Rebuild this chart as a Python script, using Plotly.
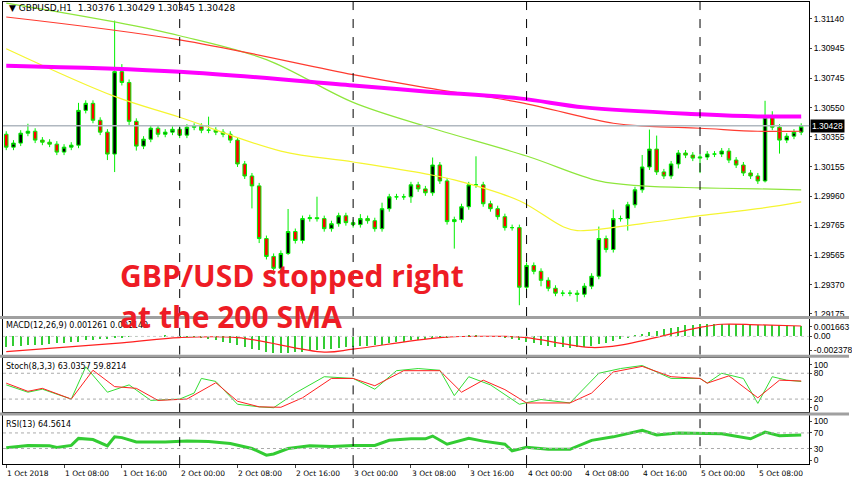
import plotly.graph_objects as go
from plotly.subplots import make_subplots

first_open = 1.30372
closes = [1.30286,1.30313,1.30379,1.30392,1.30333,1.30319,1.30306,1.30253,1.30286,1.30299,
          1.30531,1.30578,1.30465,1.30386,1.30240,1.30789,1.30717,1.30458,1.30293,1.30339,
          1.30412,1.30372,1.30386,1.30405,1.30366,1.30419,1.30425,1.30399,1.30399,1.30386,
          1.30372,1.30333,1.30174,1.30094,1.30028,1.29677,1.29558,1.29479,1.29578,1.29724,
          1.29664,1.29810,1.29816,1.29810,1.29743,1.29776,1.29829,1.29783,1.29770,1.29810,
          1.29796,1.29743,1.29876,1.29955,1.29955,1.29955,1.30035,1.30008,1.29982,1.30167,
          1.30061,1.29790,1.29803,1.29889,1.30035,1.30035,1.29909,1.29876,1.29823,1.29750,
          1.29750,1.29353,1.29498,1.29459,1.29399,1.29346,1.29313,1.29313,1.29313,1.29306,
          1.29360,1.29426,1.29677,1.29604,1.29810,1.29810,1.29902,1.30002,1.30154,1.30273,
          1.30121,1.30094,1.30174,1.30247,1.30233,1.30213,1.30220,1.30240,1.30240,1.30260,
          1.30200,1.30167,1.30114,1.30094,1.30061,1.30485,1.30419,1.30333,1.30359,1.30386,
          1.30425]
base_wick_pips = 2
wick_up_pips = {3:5,10:5,15:34,16:5,28:9,39:15,43:14,49:3,52:4,59:5,65:19,82:8,84:6,88:8,89:13,90:9,105:11,106:4}
wick_dn_pips = {14:4,15:12,17:3,18:3,34:15,35:3,37:4,39:1,56:4,62:18,71:12,74:4,79:5,86:8,93:3,96:10,105:1,107:9}

red_ma_idx = [0,24,48,58,71,84,89,96,104,110]
red_ma = [1.31153,1.31001,1.30769,1.30683,1.30584,1.30445,1.30425,1.30412,1.30392,1.30392]
sma200_idx = [0,24,48,58,71,80,96,104,110]
sma200 = [1.30829,1.30789,1.30697,1.30657,1.30611,1.30551,1.30505,1.30491,1.30491]
lime_ma_idx = [0,15,24,36,48,58,72,82,88,96,104,110]
lime_ma = [1.31246,1.31120,1.31028,1.30869,1.30584,1.30425,1.30227,1.30061,1.30028,1.30015,1.30008,1.30002]
yel_ma_idx = [0,15,24,38,48,58,62,71,77,79,88,96,104,110]
yel_ma = [1.30942,1.30624,1.30485,1.30260,1.30187,1.30108,1.30068,1.29929,1.29757,1.29730,1.29777,1.29830,1.29876,1.29922]

macd_hist_e4 = [-18,-17,-16,-15,-15,-14,-13,-12,-11,-10,-9,-7,-6,-5,-4,-3,-2,-1,-1,0,0,0,1,0,
                -1,-1,-1,-2,-4,-6,-9,-12,-15,-18,-21,-24,-27,-29,-29,-28,-27,-26,-25,-23,-22,-21,-20,-19,
                -18,-17,-16,-15,-14,-12,-10,-9,-7,-6,-5,-4,-3,-2,-1,0,1,1,0,0,-1,-2,-4,-7,
                -10,-12,-14,-16,-18,-19,-20,-19,-18,-16,-13,-11,-8,-5,-2,1,4,7,10,13,15,17,19,20,
                21,22,22,22,21,21,21,20,20,20,19,19,19,18,18]
macd_sig_idx = [0,16,24,32,44,48,60,69,72,81,85,96,99,104,110]
macd_sig_e4 = [-26,-11,-2,-2,-27,-22,-2,0,-2,-19,-15,15.6,21,20,18]

stk_idx = [0,3,5,9,11,14,17,20,24,26,27,29,32,35,37,40,44,48,51,54,57,60,62,64,67,71,74,78,82,85,88,92,96,97,99,102,104,106,108,110]
stk = [53,36,43,20,95,36,53,17,20,34,68,61,8,2,0,34,72,68,43,86,91,87,28,72,53,8,19,11,80,91,98,68,68,57,80,68,10,72,64,61]
std_idx = [0,3,5,9,12,15,18,21,25,29,32,35,38,41,45,48,51,55,60,63,66,69,72,78,81,84,88,92,96,97,100,104,107,110]
std = [57,38,45,20,87,49,45,17,20,58,15,2,1,23,68,68,51,86,86,36,64,42,11,11,34,83,96,72,68,57,74,23,64,62]

rsi_idx = [0,3,6,7,9,10,12,14,15,16,18,22,25,28,31,34,36,37,39,42,45,48,51,53,56,58,59,61,64,66,69,70,72,75,78,81,84,88,90,93,99,102,103,105,107,110]
rsi = [32,38,37,33,38,56,53,37,60,58,47,47,49,48,43,30,13,16,30,37,35,38,38,51,55,55,62,41,56,49,41,24,33,28,28,51,60,77,65,70,68,58,55,72,63,65]

time_labels = ["1 Oct 2018","1 Oct 08:00","1 Oct 16:00","2 Oct 00:00","2 Oct 08:00","2 Oct 16:00",
               "3 Oct 00:00","3 Oct 08:00","3 Oct 16:00","4 Oct 00:00","4 Oct 08:00","4 Oct 16:00",
               "5 Oct 00:00","5 Oct 08:00"]
label_idx = [0,8,16,24,32,40,48,56,64,72,80,88,96,104]
day_idx = [24,48,72,96]
price_ticks = [1.31140,1.30945,1.30745,1.30550,1.30355,1.30155,1.29960,1.29765,1.29565,1.29370,1.29175]
last_price = 1.30428

n = len(closes)
pip = 0.0001
x = list(range(n))
opens = [first_open] + closes[:-1]
highs = [max(o, c) + wick_up_pips.get(i, base_wick_pips) * pip for i, (o, c) in enumerate(zip(opens, closes))]
lows = [min(o, c) - wick_dn_pips.get(i, base_wick_pips) * pip for i, (o, c) in enumerate(zip(opens, closes))]

fig = make_subplots(rows=4, cols=1, shared_xaxes=True)
fig.add_trace(go.Scatter(x=yel_ma_idx, y=yel_ma, mode="lines", line=dict(color="#f5f530", width=1.2, shape="spline")), 1, 1)
fig.add_trace(go.Scatter(x=lime_ma_idx, y=lime_ma, mode="lines", line=dict(color="#8ee63c", width=1.2, shape="spline")), 1, 1)
fig.add_trace(go.Scatter(x=red_ma_idx, y=red_ma, mode="lines", line=dict(color="#ff3b30", width=1.2, shape="spline")), 1, 1)
fig.add_trace(go.Scatter(x=sma200_idx, y=sma200, mode="lines", line=dict(color="#ff00ff", width=4, shape="spline")), 1, 1)
fig.add_trace(go.Candlestick(x=x, open=opens, high=highs, low=lows, close=closes, whiskerwidth=0,
    increasing=dict(fillcolor="#000000", line=dict(color="#00ee00", width=1)),
    decreasing=dict(fillcolor="#ff0000", line=dict(color="#00ee00", width=1))), 1, 1)

fig.add_trace(go.Bar(x=x, y=[v * 1e-4 for v in macd_hist_e4], width=0.18, marker=dict(color="#33cc33", line_width=0)), 2, 1)
fig.add_trace(go.Scatter(x=macd_sig_idx, y=[v * 1e-4 for v in macd_sig_e4], mode="lines", line=dict(color="#ff2020", width=1.2, shape="spline")), 2, 1)

fig.add_trace(go.Scatter(x=stk_idx, y=stk, mode="lines", line=dict(color="#33dd33", width=1)), 3, 1)
fig.add_trace(go.Scatter(x=std_idx, y=std, mode="lines", line=dict(color="#ff2020", width=1)), 3, 1)

fig.add_trace(go.Scatter(x=rsi_idx, y=rsi, mode="lines", line=dict(color="#33cc33", width=3)), 4, 1)

H = 485.0
def dom(top, bot):
    return [1 - bot / H, 1 - top / H]

xr = [-0.45, 111.1]
xdom = [3 / 852, 812 / 852]
ax_common = dict(showline=True, linecolor="#000", linewidth=1, mirror=True, showgrid=False, zeroline=False,
                 range=xr, domain=xdom, rangeslider=dict(visible=False), showticklabels=False)
yax_common = dict(side="right", ticks="outside", ticklen=2, tickfont=dict(family="Liberation Sans", size=8.5),
                  showline=True, mirror=True, linecolor="#000", showgrid=False, zeroline=False)
fig.update_layout(
    width=852, height=485, margin=dict(l=0, r=0, t=0, b=0), showlegend=False,
    paper_bgcolor="white", plot_bgcolor="white",
    font=dict(family="DejaVu Sans", size=8, color="#000"),
    xaxis=dict(**ax_common), xaxis2=dict(**ax_common), xaxis3=dict(**ax_common),
    xaxis4=dict(**ax_common, ticks="outside", ticklen=3, tickvals=label_idx),
    yaxis=dict(domain=dom(2, 318), range=[1.29161, 1.31253], tickvals=price_ticks,
               ticktext=[f"{v:.5f}" for v in price_ticks], **yax_common),
    yaxis2=dict(domain=dom(321, 357), range=[-0.00316, 0.0030], tickvals=[0.001663, 0, -0.002378],
                ticktext=["0.001663", "0.00", "-0.002378"], **yax_common),
    yaxis3=dict(domain=dom(360, 415), range=[-11, 116], tickvals=[100, 80, 20, 0], **yax_common),
    yaxis4=dict(domain=dom(418, 467), range=[-10, 115], tickvals=[100, 70, 30, 0], **yax_common),
    bargap=0,
)

shapes = []
for d in day_idx:
    for yr, (a, b) in [("y", (1.29161, 1.31253)), ("y2", (-0.00316, 0.0030)), ("y3", (-11, 116)), ("y4", (-10, 115))]:
        shapes.append(dict(type="line", xref="x", yref=yr, x0=d, x1=d, y0=a, y1=b,
                           line=dict(color="#000", width=1, dash="dash")))
shapes.append(dict(type="line", xref="paper", yref="y", x0=xdom[0], x1=xdom[1], y0=last_price, y1=last_price,
                   line=dict(color="#b0b8c0", width=1.5)))
for lvl in [80, 20]:
    shapes.append(dict(type="line", xref="paper", yref="y3", x0=xdom[0], x1=xdom[1], y0=lvl, y1=lvl,
                       line=dict(color="#aaa", width=1, dash="dot")))
for lvl in [70, 30]:
    shapes.append(dict(type="line", xref="paper", yref="y4", x0=xdom[0], x1=xdom[1], y0=lvl, y1=lvl,
                       line=dict(color="#aaa", width=1, dash="dot")))
shapes.append(dict(type="line", xref="paper", yref="y2", x0=xdom[0], x1=xdom[1], y0=0, y1=0,
                   line=dict(color="#ccc", width=1, dash="dot")))
for yy in [319.5, 358.5, 416.5]:
    shapes.append(dict(type="line", xref="paper", yref="paper", x0=0, x1=1, y0=1 - yy / H, y1=1 - yy / H,
                       line=dict(color="#a0a0a0", width=3)))
fig.update_layout(shapes=shapes)

ann = []
ann.append(dict(xref="paper", yref="paper", x=0.008, y=1 - 8 / H, xanchor="left", yanchor="middle", showarrow=False,
                text="▼ GBPUSD,H1  1.30376 1.30429 1.30345 1.30428", font=dict(size=9)))
ann.append(dict(xref="paper", yref="paper", x=0.005, y=1 - 328 / H, xanchor="left", yanchor="middle", showarrow=False,
                text="MACD(12,26,9) 0.001261 0.001149", font=dict(size=8)))
ann.append(dict(xref="paper", yref="paper", x=0.005, y=1 - 369 / H, xanchor="left", yanchor="middle", showarrow=False,
                text="Stoch(8,3,3) 63.0357 59.8214", font=dict(size=8)))
ann.append(dict(xref="paper", yref="paper", x=0.005, y=1 - 427 / H, xanchor="left", yanchor="middle", showarrow=False,
                text="RSI(13) 64.5614", font=dict(size=8)))
ann.append(dict(xref="paper", yref="y", x=813 / 852, y=last_price, xanchor="left", yanchor="middle", showarrow=False,
                text="1.30428", font=dict(family="Liberation Sans", size=8.5, color="white"), bgcolor="black", borderpad=1))
for lab, li in zip(time_labels, label_idx):
    ann.append(dict(xref="x", yref="paper", x=li, y=1 - 476 / H, xanchor="left", yanchor="middle", showarrow=False,
                    text=lab, font=dict(size=7.5), xshift=-1))
ann.append(dict(xref="paper", yref="paper", x=118 / 852, y=1 - 277 / H, xanchor="left", yanchor="middle", showarrow=False,
                text="<b>GBP/USD stopped right</b>", font=dict(family="Open Sans", size=30, color="#ee1c25")))
ann.append(dict(xref="paper", yref="paper", x=118 / 852, y=1 - 318 / H, xanchor="left", yanchor="middle", showarrow=False,
                text="<b>at the 200 SMA</b>", font=dict(family="Open Sans", size=30, color="#ee1c25")))
fig.update_layout(annotations=ann)

fig.write_html("out.html", config={"displayModeBar": False},
               post_script="document.body.style.margin='0';document.body.style.overflow='hidden';")
